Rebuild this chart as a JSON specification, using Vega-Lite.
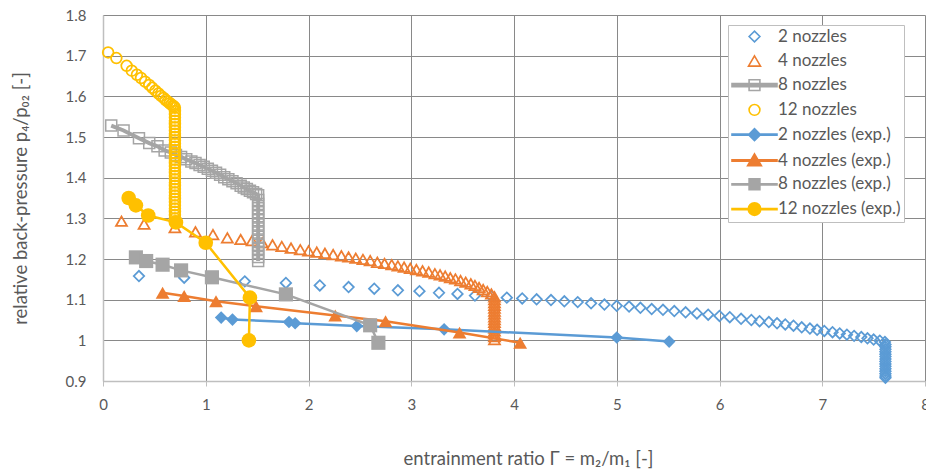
{
  "$schema": "https://vega.github.io/schema/vega-lite/v6.json",
  "width": 822,
  "height": 366,
  "autosize": {"type": "none"},
  "padding": {"left": 103, "top": 15, "right": 1, "bottom": 92},
  "background": "white",
  "config": {
    "view": {"stroke": null},
    "font": "Lato",
    "axis": {
      "grid": true,
      "gridColor": "#898989",
      "gridWidth": 1,
      "domainColor": "#bfbfbf",
      "domainWidth": 1.5,
      "labelFont": "Lato",
      "labelFontSize": 15,
      "labelColor": "#595959",
      "titleFont": "Lato",
      "titleFontSize": 18.5,
      "titleFontWeight": "normal",
      "titleColor": "#595959",
      "labelFlush": false,
      "labelOverlap": false,
      "labelBound": false
    }
  },
  "data": {"values": [
    {"s":"2 nozzles","x":0.35,"y":1.158},{"s":"2 nozzles","x":0.79,"y":1.154},{"s":"2 nozzles","x":1.38,"y":1.145},{"s":"2 nozzles","x":1.78,"y":1.141},{"s":"2 nozzles","x":2.11,"y":1.135},{"s":"2 nozzles","x":2.39,"y":1.131},{"s":"2 nozzles","x":2.64,"y":1.127},{"s":"2 nozzles","x":2.87,"y":1.123},{"s":"2 nozzles","x":3.08,"y":1.121},{"s":"2 nozzles","x":3.27,"y":1.117},{"s":"2 nozzles","x":3.45,"y":1.114},{"s":"2 nozzles","x":3.62,"y":1.110},{"s":"2 nozzles","x":3.78,"y":1.108},{"s":"2 nozzles","x":3.93,"y":1.105},{"s":"2 nozzles","x":4.08,"y":1.103},{"s":"2 nozzles","x":4.22,"y":1.101},{"s":"2 nozzles","x":4.36,"y":1.099},{"s":"2 nozzles","x":4.49,"y":1.096},{"s":"2 nozzles","x":4.62,"y":1.094},{"s":"2 nozzles","x":4.75,"y":1.091},{"s":"2 nozzles","x":4.88,"y":1.088},{"s":"2 nozzles","x":5.00,"y":1.085},{"s":"2 nozzles","x":5.12,"y":1.083},{"s":"2 nozzles","x":5.23,"y":1.080},{"s":"2 nozzles","x":5.34,"y":1.077},{"s":"2 nozzles","x":5.45,"y":1.075},{"s":"2 nozzles","x":5.56,"y":1.072},{"s":"2 nozzles","x":5.67,"y":1.069},{"s":"2 nozzles","x":5.78,"y":1.066},{"s":"2 nozzles","x":5.89,"y":1.063},{"s":"2 nozzles","x":6.00,"y":1.060},{"s":"2 nozzles","x":6.10,"y":1.057},{"s":"2 nozzles","x":6.21,"y":1.053},{"s":"2 nozzles","x":6.31,"y":1.050},{"s":"2 nozzles","x":6.39,"y":1.047},{"s":"2 nozzles","x":6.48,"y":1.045},{"s":"2 nozzles","x":6.56,"y":1.042},{"s":"2 nozzles","x":6.64,"y":1.039},{"s":"2 nozzles","x":6.72,"y":1.036},{"s":"2 nozzles","x":6.80,"y":1.032},{"s":"2 nozzles","x":6.88,"y":1.029},{"s":"2 nozzles","x":6.95,"y":1.026},{"s":"2 nozzles","x":7.02,"y":1.023},{"s":"2 nozzles","x":7.10,"y":1.020},{"s":"2 nozzles","x":7.17,"y":1.017},{"s":"2 nozzles","x":7.24,"y":1.014},{"s":"2 nozzles","x":7.31,"y":1.011},{"s":"2 nozzles","x":7.38,"y":1.008},{"s":"2 nozzles","x":7.44,"y":1.005},{"s":"2 nozzles","x":7.50,"y":1.002},{"s":"2 nozzles","x":7.56,"y":0.999},{"s":"2 nozzles","x":7.61,"y":0.996},
    {"s":"2 nozzles","x":7.615,"y":0.990},{"s":"2 nozzles","x":7.615,"y":0.984},{"s":"2 nozzles","x":7.615,"y":0.978},{"s":"2 nozzles","x":7.615,"y":0.972},{"s":"2 nozzles","x":7.615,"y":0.966},{"s":"2 nozzles","x":7.615,"y":0.960},{"s":"2 nozzles","x":7.615,"y":0.954},{"s":"2 nozzles","x":7.615,"y":0.948},{"s":"2 nozzles","x":7.615,"y":0.942},{"s":"2 nozzles","x":7.615,"y":0.936},{"s":"2 nozzles","x":7.615,"y":0.930},{"s":"2 nozzles","x":7.615,"y":0.924},{"s":"2 nozzles","x":7.615,"y":0.918},{"s":"2 nozzles","x":7.615,"y":0.912},{"s":"2 nozzles","x":7.615,"y":0.908},
    {"s":"4 nozzles","x":0.18,"y":1.293},{"s":"4 nozzles","x":0.40,"y":1.286},{"s":"4 nozzles","x":0.70,"y":1.277},{"s":"4 nozzles","x":0.90,"y":1.267},{"s":"4 nozzles","x":1.07,"y":1.260},{"s":"4 nozzles","x":1.21,"y":1.252},{"s":"4 nozzles","x":1.34,"y":1.248},{"s":"4 nozzles","x":1.45,"y":1.245},{"s":"4 nozzles","x":1.55,"y":1.240},{"s":"4 nozzles","x":1.65,"y":1.235},{"s":"4 nozzles","x":1.74,"y":1.231},{"s":"4 nozzles","x":1.83,"y":1.227},{"s":"4 nozzles","x":1.92,"y":1.223},{"s":"4 nozzles","x":2.00,"y":1.220},{"s":"4 nozzles","x":2.08,"y":1.217},{"s":"4 nozzles","x":2.16,"y":1.214},{"s":"4 nozzles","x":2.24,"y":1.211},{"s":"4 nozzles","x":2.32,"y":1.208},{"s":"4 nozzles","x":2.39,"y":1.205},{"s":"4 nozzles","x":2.46,"y":1.202},{"s":"4 nozzles","x":2.53,"y":1.199},{"s":"4 nozzles","x":2.60,"y":1.196},{"s":"4 nozzles","x":2.67,"y":1.192},{"s":"4 nozzles","x":2.74,"y":1.189},{"s":"4 nozzles","x":2.81,"y":1.186},{"s":"4 nozzles","x":2.87,"y":1.183},{"s":"4 nozzles","x":2.93,"y":1.180},{"s":"4 nozzles","x":2.99,"y":1.177},{"s":"4 nozzles","x":3.05,"y":1.174},{"s":"4 nozzles","x":3.11,"y":1.171},{"s":"4 nozzles","x":3.17,"y":1.168},{"s":"4 nozzles","x":3.23,"y":1.164},{"s":"4 nozzles","x":3.28,"y":1.161},{"s":"4 nozzles","x":3.33,"y":1.158},{"s":"4 nozzles","x":3.38,"y":1.154},{"s":"4 nozzles","x":3.43,"y":1.151},{"s":"4 nozzles","x":3.48,"y":1.147},{"s":"4 nozzles","x":3.53,"y":1.143},{"s":"4 nozzles","x":3.58,"y":1.139},{"s":"4 nozzles","x":3.62,"y":1.135},{"s":"4 nozzles","x":3.66,"y":1.130},{"s":"4 nozzles","x":3.70,"y":1.125},{"s":"4 nozzles","x":3.74,"y":1.120},{"s":"4 nozzles","x":3.78,"y":1.114},{"s":"4 nozzles","x":3.81,"y":1.107},
    {"s":"4 nozzles","x":3.81,"y":1.100},{"s":"4 nozzles","x":3.81,"y":1.093},{"s":"4 nozzles","x":3.81,"y":1.086},{"s":"4 nozzles","x":3.81,"y":1.079},{"s":"4 nozzles","x":3.81,"y":1.072},{"s":"4 nozzles","x":3.81,"y":1.065},{"s":"4 nozzles","x":3.81,"y":1.058},{"s":"4 nozzles","x":3.81,"y":1.051},{"s":"4 nozzles","x":3.81,"y":1.044},{"s":"4 nozzles","x":3.81,"y":1.037},{"s":"4 nozzles","x":3.81,"y":1.030},{"s":"4 nozzles","x":3.81,"y":1.023},{"s":"4 nozzles","x":3.81,"y":1.016},{"s":"4 nozzles","x":3.81,"y":1.009},{"s":"4 nozzles","x":3.81,"y":1.002},
    {"s":"8 nozzles","x":0.08,"y":1.528},{"s":"8 nozzles","x":0.20,"y":1.516},{"s":"8 nozzles","x":0.35,"y":1.497},{"s":"8 nozzles","x":0.45,"y":1.485},{"s":"8 nozzles","x":0.53,"y":1.477},{"s":"8 nozzles","x":0.60,"y":1.467},{"s":"8 nozzles","x":0.66,"y":1.462},{"s":"8 nozzles","x":0.71,"y":1.456},{"s":"8 nozzles","x":0.76,"y":1.451},{"s":"8 nozzles","x":0.81,"y":1.445},{"s":"8 nozzles","x":0.86,"y":1.440},{"s":"8 nozzles","x":0.90,"y":1.436},{"s":"8 nozzles","x":0.94,"y":1.431},{"s":"8 nozzles","x":0.98,"y":1.427},{"s":"8 nozzles","x":1.02,"y":1.422},{"s":"8 nozzles","x":1.06,"y":1.417},{"s":"8 nozzles","x":1.10,"y":1.412},{"s":"8 nozzles","x":1.14,"y":1.407},{"s":"8 nozzles","x":1.18,"y":1.401},{"s":"8 nozzles","x":1.22,"y":1.396},{"s":"8 nozzles","x":1.26,"y":1.391},{"s":"8 nozzles","x":1.30,"y":1.386},{"s":"8 nozzles","x":1.34,"y":1.380},{"s":"8 nozzles","x":1.37,"y":1.376},{"s":"8 nozzles","x":1.40,"y":1.372},{"s":"8 nozzles","x":1.43,"y":1.368},{"s":"8 nozzles","x":1.46,"y":1.364},{"s":"8 nozzles","x":1.49,"y":1.360},{"s":"8 nozzles","x":1.51,"y":1.357},
    {"s":"8 nozzles","x":1.51,"y":1.345},{"s":"8 nozzles","x":1.51,"y":1.335},{"s":"8 nozzles","x":1.51,"y":1.325},{"s":"8 nozzles","x":1.51,"y":1.315},{"s":"8 nozzles","x":1.51,"y":1.305},{"s":"8 nozzles","x":1.51,"y":1.295},{"s":"8 nozzles","x":1.51,"y":1.285},{"s":"8 nozzles","x":1.51,"y":1.275},{"s":"8 nozzles","x":1.51,"y":1.265},{"s":"8 nozzles","x":1.51,"y":1.255},{"s":"8 nozzles","x":1.51,"y":1.245},{"s":"8 nozzles","x":1.51,"y":1.235},{"s":"8 nozzles","x":1.51,"y":1.225},{"s":"8 nozzles","x":1.51,"y":1.215},{"s":"8 nozzles","x":1.51,"y":1.205},{"s":"8 nozzles","x":1.51,"y":1.195},
    {"s":"12 nozzles","x":0.05,"y":1.708},{"s":"12 nozzles","x":0.13,"y":1.694},{"s":"12 nozzles","x":0.23,"y":1.675},{"s":"12 nozzles","x":0.28,"y":1.663},{"s":"12 nozzles","x":0.33,"y":1.653},{"s":"12 nozzles","x":0.37,"y":1.645},{"s":"12 nozzles","x":0.41,"y":1.636},{"s":"12 nozzles","x":0.45,"y":1.628},{"s":"12 nozzles","x":0.48,"y":1.621},{"s":"12 nozzles","x":0.51,"y":1.614},{"s":"12 nozzles","x":0.54,"y":1.607},{"s":"12 nozzles","x":0.565,"y":1.601},{"s":"12 nozzles","x":0.59,"y":1.596},{"s":"12 nozzles","x":0.61,"y":1.591},{"s":"12 nozzles","x":0.63,"y":1.587},{"s":"12 nozzles","x":0.65,"y":1.583},{"s":"12 nozzles","x":0.665,"y":1.580},{"s":"12 nozzles","x":0.68,"y":1.577},{"s":"12 nozzles","x":0.69,"y":1.575},{"s":"12 nozzles","x":0.70,"y":1.572},
    {"s":"12 nozzles","x":0.70,"y":1.564},{"s":"12 nozzles","x":0.70,"y":1.556},{"s":"12 nozzles","x":0.70,"y":1.548},{"s":"12 nozzles","x":0.70,"y":1.540},{"s":"12 nozzles","x":0.70,"y":1.532},{"s":"12 nozzles","x":0.70,"y":1.524},{"s":"12 nozzles","x":0.70,"y":1.516},{"s":"12 nozzles","x":0.70,"y":1.508},{"s":"12 nozzles","x":0.70,"y":1.500},{"s":"12 nozzles","x":0.70,"y":1.492},{"s":"12 nozzles","x":0.70,"y":1.484},{"s":"12 nozzles","x":0.70,"y":1.476},{"s":"12 nozzles","x":0.70,"y":1.468},{"s":"12 nozzles","x":0.70,"y":1.460},{"s":"12 nozzles","x":0.70,"y":1.452},{"s":"12 nozzles","x":0.70,"y":1.444},{"s":"12 nozzles","x":0.70,"y":1.436},{"s":"12 nozzles","x":0.70,"y":1.428},{"s":"12 nozzles","x":0.70,"y":1.420},{"s":"12 nozzles","x":0.70,"y":1.412},{"s":"12 nozzles","x":0.70,"y":1.404},{"s":"12 nozzles","x":0.70,"y":1.396},{"s":"12 nozzles","x":0.70,"y":1.388},{"s":"12 nozzles","x":0.70,"y":1.380},{"s":"12 nozzles","x":0.70,"y":1.372},{"s":"12 nozzles","x":0.70,"y":1.364},{"s":"12 nozzles","x":0.70,"y":1.356},{"s":"12 nozzles","x":0.70,"y":1.348},{"s":"12 nozzles","x":0.70,"y":1.340},{"s":"12 nozzles","x":0.70,"y":1.332},{"s":"12 nozzles","x":0.70,"y":1.324},{"s":"12 nozzles","x":0.70,"y":1.316},{"s":"12 nozzles","x":0.70,"y":1.308},{"s":"12 nozzles","x":0.70,"y":1.300},{"s":"12 nozzles","x":0.70,"y":1.292},
    {"s":"2 nozzles (exp.)","x":1.15,"y":1.056},{"s":"2 nozzles (exp.)","x":1.26,"y":1.051},{"s":"2 nozzles (exp.)","x":1.81,"y":1.045},{"s":"2 nozzles (exp.)","x":1.87,"y":1.042},{"s":"2 nozzles (exp.)","x":2.47,"y":1.035},{"s":"2 nozzles (exp.)","x":3.32,"y":1.027},{"s":"2 nozzles (exp.)","x":5.00,"y":1.007},{"s":"2 nozzles (exp.)","x":5.51,"y":0.997},
    {"s":"4 nozzles (exp.)","x":0.58,"y":1.117},{"s":"4 nozzles (exp.)","x":0.79,"y":1.109},{"s":"4 nozzles (exp.)","x":1.10,"y":1.096},{"s":"4 nozzles (exp.)","x":1.49,"y":1.084},{"s":"4 nozzles (exp.)","x":2.26,"y":1.061},{"s":"4 nozzles (exp.)","x":2.75,"y":1.047},{"s":"4 nozzles (exp.)","x":3.47,"y":1.019},{"s":"4 nozzles (exp.)","x":4.06,"y":0.994},
    {"s":"8 nozzles (exp.)","x":0.32,"y":1.204},{"s":"8 nozzles (exp.)","x":0.42,"y":1.195},{"s":"8 nozzles (exp.)","x":0.58,"y":1.186},{"s":"8 nozzles (exp.)","x":0.76,"y":1.172},{"s":"8 nozzles (exp.)","x":1.06,"y":1.155},{"s":"8 nozzles (exp.)","x":1.78,"y":1.113},{"s":"8 nozzles (exp.)","x":2.60,"y":1.037},{"s":"8 nozzles (exp.)","x":2.68,"y":0.994},
    {"s":"12 nozzles (exp.)","x":0.25,"y":1.350},{"s":"12 nozzles (exp.)","x":0.32,"y":1.332},{"s":"12 nozzles (exp.)","x":0.44,"y":1.307},{"s":"12 nozzles (exp.)","x":0.71,"y":1.290},{"s":"12 nozzles (exp.)","x":1.00,"y":1.240},{"s":"12 nozzles (exp.)","x":1.43,"y":1.105},{"s":"12 nozzles (exp.)","x":1.42,"y":1.000}
  ]},
  "encoding": {
    "x": {"field": "x", "type": "quantitative",
      "scale": {"domain": [0, 8], "nice": false, "zero": false},
      "axis": {"values": [0,1,2,3,4,5,6,7,8], "tickSize": 5, "tickColor": "#bfbfbf", "labelPadding": 11, "titlePadding": 37, "title": "entrainment ratio Γ = m₂/m₁ [-]", "titleX": 425}},
    "y": {"field": "y", "type": "quantitative",
      "scale": {"domain": [0.9, 1.8], "nice": false, "zero": false},
      "axis": {"values": [0.9,1.0,1.1,1.2,1.3,1.4,1.5,1.6,1.7,1.8], "format": "~g", "ticks": false, "labelPadding": 17, "titlePadding": 35, "title": "relative back-pressure p₄/p₀₂ [-]"}}
  },
  "layer": [
    {"transform": [{"filter": "datum.s == '2 nozzles'"}],
     "mark": {"type": "point", "shape": "diamond", "size": 110, "filled": false, "stroke": "#5B9BD5", "strokeWidth": 1.75, "opacity": 1}},
    {"transform": [{"filter": "datum.s == '4 nozzles'"}],
     "mark": {"type": "point", "shape": "triangle-up", "size": 121, "filled": false, "stroke": "#ED7D31", "strokeWidth": 1.75, "opacity": 1}},
    {"transform": [{"filter": "datum.s == '8 nozzles'"}],
     "mark": {"type": "line", "stroke": "#A5A5A5", "strokeWidth": 4},
     "encoding": {"order": {"value": null}}},
    {"transform": [{"filter": "datum.s == '8 nozzles'"}],
     "mark": {"type": "point", "shape": "square", "size": 121, "filled": false, "stroke": "#A5A5A5", "strokeWidth": 1.5, "opacity": 1}},
    {"transform": [{"filter": "datum.s == '12 nozzles'"}],
     "mark": {"type": "point", "shape": "circle", "size": 115, "filled": false, "stroke": "#FFC000", "strokeWidth": 1.75, "opacity": 1}},
    {"transform": [{"filter": "datum.s == '2 nozzles (exp.)'"}],
     "mark": {"type": "line", "stroke": "#5B9BD5", "strokeWidth": 2.5},
     "encoding": {"order": {"value": null}}},
    {"transform": [{"filter": "datum.s == '2 nozzles (exp.)'"}],
     "mark": {"type": "point", "shape": "diamond", "size": 160, "filled": true, "color": "#5B9BD5", "opacity": 1}},
    {"transform": [{"filter": "datum.s == '4 nozzles (exp.)'"}],
     "mark": {"type": "line", "stroke": "#ED7D31", "strokeWidth": 2.5},
     "encoding": {"order": {"value": null}}},
    {"transform": [{"filter": "datum.s == '4 nozzles (exp.)'"}],
     "mark": {"type": "point", "shape": "triangle-up", "size": 190, "filled": true, "color": "#ED7D31", "opacity": 1}},
    {"transform": [{"filter": "datum.s == '8 nozzles (exp.)'"}],
     "mark": {"type": "line", "stroke": "#A5A5A5", "strokeWidth": 2.5},
     "encoding": {"order": {"value": null}}},
    {"transform": [{"filter": "datum.s == '8 nozzles (exp.)'"}],
     "mark": {"type": "point", "shape": "square", "size": 200, "filled": true, "color": "#A5A5A5", "opacity": 1}},
    {"transform": [{"filter": "datum.s == '12 nozzles (exp.)'"}],
     "mark": {"type": "line", "stroke": "#FFC000", "strokeWidth": 2.5},
     "encoding": {"order": {"value": null}}},
    {"transform": [{"filter": "datum.s == '12 nozzles (exp.)'"}],
     "mark": {"type": "point", "shape": "circle", "size": 215, "filled": true, "color": "#FFC000", "opacity": 1}},
    {"data": {"values": [{"s":"2 nozzles"},{"s":"4 nozzles"},{"s":"8 nozzles"},{"s":"12 nozzles"},{"s":"2 nozzles (exp.)"},{"s":"4 nozzles (exp.)"},{"s":"8 nozzles (exp.)"},{"s":"12 nozzles (exp.)"}]},
     "mark": {"type": "point", "filled": false, "opacity": 0},
     "encoding": {
       "x": {"datum": -10, "type": "quantitative"},
       "y": {"datum": 0, "type": "quantitative"},
       "shape": {"field": "s", "type": "nominal",
         "scale": {"domain": ["2 nozzles","4 nozzles","8 nozzles","12 nozzles","2 nozzles (exp.)","4 nozzles (exp.)","8 nozzles (exp.)","12 nozzles (exp.)"],
           "range": [
             "M-0.9,0L0,-0.9L0.9,0L0,0.9Z",
             "M0,-0.9L1,0.8L-1,0.8Z",
             "M-3.75,0H3.75M-3.75,-0.25H3.75V0.25H-3.75ZM-0.9,-0.9H0.9V0.9H-0.9Z",
             "M0.9,0A0.9,0.9,0,1,1,-0.9,0A0.9,0.9,0,1,1,0.9,0Z",
             "M-3.75,0H3.75M-3.75,-0.1H3.75V0.1H-3.75ZM-1,0L0,-1L1,0L0,1ZM-0.8,0L0,-0.8L0.8,0L0,0.8ZM-0.6,0L0,-0.6L0.6,0L0,0.6ZM-0.4,0L0,-0.4L0.4,0L0,0.4ZM-0.2,0L0,-0.2L0.2,0L0,0.2Z",
             "M-3.75,0H3.75M-3.75,-0.1H3.75V0.1H-3.75ZM0,-1.1L1.15,0.85L-1.15,0.85ZM0,-0.88L0.92,0.68L-0.92,0.68ZM0,-0.66L0.69,0.51L-0.69,0.51ZM0,-0.44L0.46,0.34L-0.46,0.34ZM0,-0.22L0.23,0.17L-0.23,0.17Z",
             "M-3.75,0H3.75M-3.75,-0.1H3.75V0.1H-3.75ZM-0.9,-0.9H0.9V0.9H-0.9ZM-0.7,-0.7H0.7V0.7H-0.7ZM-0.5,-0.5H0.5V0.5H-0.5ZM-0.3,-0.3H0.3V0.3H-0.3ZM-0.1,-0.1H0.1V0.1H-0.1Z",
             "M-3.75,0H3.75M-3.75,-0.1H3.75V0.1H-3.75ZM1.05,0A1.05,1.05,0,1,1,-1.05,0A1.05,1.05,0,1,1,1.05,0ZM0.85,0A0.85,0.85,0,1,1,-0.85,0A0.85,0.85,0,1,1,0.85,0ZM0.65,0A0.65,0.65,0,1,1,-0.65,0A0.65,0.65,0,1,1,0.65,0ZM0.45,0A0.45,0.45,0,1,1,-0.45,0A0.45,0.45,0,1,1,0.45,0ZM0.25,0A0.25,0.25,0,1,1,-0.25,0A0.25,0.25,0,1,1,0.25,0Z"
           ]},
         "legend": {"orient": "none", "legendX": 625, "legendY": 10, "title": null, "padding": 3,
           "strokeColor": "#bfbfbf", "fillColor": "white", "symbolSize": 144, "symbolStrokeWidth": 1.6,
           "symbolOffset": 15, "labelOffset": 15, "rowPadding": 5.8,
           "labelFont": "Lato", "labelFontSize": 17, "labelColor": "#595959"}},
       "stroke": {"field": "s", "type": "nominal",
         "scale": {"domain": ["2 nozzles","4 nozzles","8 nozzles","12 nozzles","2 nozzles (exp.)","4 nozzles (exp.)","8 nozzles (exp.)","12 nozzles (exp.)"],
           "range": ["#5B9BD5","#ED7D31","#A5A5A5","#FFC000","#5B9BD5","#ED7D31","#A5A5A5","#FFC000"]},
         "legend": {"orient": "none", "legendX": 625, "legendY": 10, "title": null, "padding": 3,
           "strokeColor": "#bfbfbf", "fillColor": "white", "symbolSize": 144, "symbolStrokeWidth": 1.6,
           "symbolOffset": 15, "labelOffset": 15, "rowPadding": 5.8,
           "labelFont": "Lato", "labelFontSize": 17, "labelColor": "#595959"}}
     }}
  ]
}
